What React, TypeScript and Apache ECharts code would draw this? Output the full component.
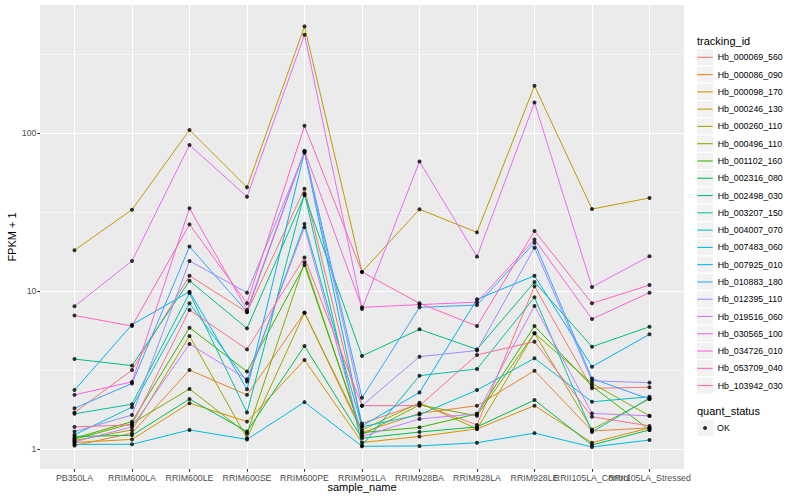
import React, { useEffect, useRef } from "react";
import * as echarts from "echarts";

const categories = [
  "PB350LA", "RRIM600LA", "RRIM600LE", "RRIM600SE", "RRIM600PE", "RRIM901LA",
  "RRIM928BA", "RRIM928LA", "RRIM928LE", "RRII105LA_Control", "RRII105LA_Stressed",
];

const trackingIds = [
  "Hb_000069_560", "Hb_000086_090", "Hb_000098_170", "Hb_000246_130", "Hb_000260_110",
  "Hb_000496_110", "Hb_001102_160", "Hb_002316_080", "Hb_002498_030", "Hb_003207_150",
  "Hb_004007_070", "Hb_007483_060", "Hb_007925_010", "Hb_010883_180", "Hb_012395_110",
  "Hb_019516_060", "Hb_030565_100", "Hb_034726_010", "Hb_053709_040", "Hb_103942_030",
];

const hueColors = [
  "#F8766D", "#EA8331", "#D89000", "#C09B00", "#A3A500", "#7CAE00", "#39B600", "#00BB4E",
  "#00BF7D", "#00C1A3", "#00BFC4", "#00BAE0", "#00B0F6", "#35A2FF", "#9590FF", "#C77CFF",
  "#E76BF3", "#FA62DB", "#FF62BC", "#FF6C91",
];

// FPKM + 1 per sample, in category order
const hb000069_560 = [1.70, 3.16, 12.5, 7.33, 44.4, 1.45, 1.93, 1.42, 10.7, 2.42, 2.46];
const hb000086_090 = [1.05, 1.26, 3.16, 2.20, 7.29, 1.27, 1.68, 1.88, 3.13, 1.30, 1.36];
const hb000098_170 = [1.10, 1.15, 1.95, 1.49, 3.66, 1.10, 1.20, 1.34, 1.88, 1.096, 1.36];
const hb000246_130 = [18.1, 32.7, 104.5, 45.3, 473, 13.2, 32.9, 23.5, 199, 33.0, 38.8];
const hb000260_110 = [1.13, 1.32, 5.19, 1.17, 7.29, 1.32, 1.96, 1.34, 5.40, 1.33, 2.07];
const hb000496_110 = [1.15, 1.45, 2.40, 1.25, 15.2, 1.23, 1.90, 1.62, 5.40, 2.60, 1.62];
const hb001102_160 = [1.17, 1.49, 5.86, 3.09, 14.6, 1.27, 1.37, 1.67, 6.0, 2.50, 1.32];
const hb002316_080 = [1.20, 1.22, 2.07, 1.29, 4.49, 1.17, 1.28, 1.38, 2.04, 1.06, 1.32];
const hb002498_030 = [3.71, 3.37, 11.6, 5.80, 40.4, 3.88, 5.72, 4.27, 11.4, 4.44, 5.94];
const hb003207_150 = [1.67, 1.92, 9.7, 1.70, 41.4, 1.05, 2.91, 3.21, 9.12, 1.28, 2.10];
const hb004007_070 = [1.23, 1.84, 8.36, 2.67, 26.6, 1.38, 1.65, 2.36, 3.75, 1.99, 2.14];
const hb007483_060 = [1.07, 1.07, 1.32, 1.15, 1.98, 1.04, 1.045, 1.096, 1.26, 1.03, 1.14];
const hb007925_010 = [2.36, 6.12, 9.9, 2.39, 76, 1.40, 2.28, 8.86, 12.5, 3.32, 5.32];
const hb010883_180 = [1.81, 2.60, 19.1, 7.40, 77, 2.11, 7.88, 8.15, 20.2, 2.79, 2.07];
const hb012395_110 = [1.29, 1.64, 15.5, 9.76, 75, 1.88, 3.84, 4.20, 18.8, 2.70, 2.63];
const hb019516_060 = [1.11, 1.38, 4.62, 2.76, 25.3, 1.20, 1.55, 1.67, 8.04, 1.68, 1.62];
const hb030565_100 = [8.0, 15.5, 84, 39.5, 419, 7.7, 66, 16.5, 156, 10.6, 16.6];
const hb034726_010 = [2.20, 2.66, 33.4, 7.59, 77, 7.88, 8.2, 8.5, 21.2, 6.65, 9.76];
const hb053709_040 = [7.0, 6.0, 26.4, 8.36, 111, 13.2, 8.36, 6.0, 24, 8.36, 10.9];
const hb103942_030 = [1.38, 1.42, 7.59, 4.27, 16.3, 1.88, 1.88, 3.94, 4.78, 1.60, 1.40];

const seriesValues = [
  hb000069_560, hb000086_090, hb000098_170, hb000246_130, hb000260_110,
  hb000496_110, hb001102_160, hb002316_080, hb002498_030, hb003207_150,
  hb004007_070, hb007483_060, hb007925_010, hb010883_180, hb012395_110,
  hb019516_060, hb030565_100, hb034726_010, hb053709_040, hb103942_030,
];

const yTickValues = [1, 10, 100];
const quantStatus = "OK";

const FONT = "'Liberation Sans', Arial, Helvetica, sans-serif";

export default function App() {
  const ref = useRef<HTMLDivElement>(null);

  useEffect(() => {
    if (!ref.current) return;
    const chart = echarts.init(ref.current, undefined, { renderer: "svg" });

    const panel = { left: 40, top: 5, width: 644, height: 464 };
    const yMin = 0.747;
    const yMax = 646;
    const ppd = panel.height / (Math.log10(yMax) - Math.log10(yMin));
    const yAtOne = panel.top + Math.log10(yMax) * ppd;
    const yAtTop = yAtOne - Math.log10(yTickValues[yTickValues.length - 1]) * ppd;

    const n = categories.length;
    const step = panel.width / (n - 1 + 1.2);
    const dataLeft = panel.left + 0.6 * step;
    const dataWidth = step * (n - 1);
    const crowdedLabel = n - 2; // label that overlaps its neighbours

    const keySize = 17.28;
    const legendLeft = 696.4;
    const legend1Top = 48.66;
    const legend2Top = 419.4;

    const lineSeries = trackingIds.map((name, k) => ({
      name,
      type: "line",
      xAxisIndex: 2,
      yAxisIndex: 2,
      data: seriesValues[k].map((v, i) => [i, v]),
      symbol: "none",
      showSymbol: false,
      color: hueColors[k],
      lineStyle: { color: hueColors[k], width: 1 },
      z: 3,
    }));

    const pointData: number[][] = [];
    seriesValues.forEach((vals) => vals.forEach((v, i) => pointData.push([i, v])));

    const keyRects: any[] = trackingIds.map((_, k) => ({
      type: "rect",
      shape: { x: legendLeft, y: legend1Top + k * keySize, width: keySize, height: keySize },
      style: { fill: "#F2F2F2", stroke: "#FFFFFF", lineWidth: 1 },
      z: 1,
    }));
    keyRects.push({
      type: "rect",
      shape: { x: legendLeft, y: legend2Top, width: keySize, height: keySize },
      style: { fill: "#F2F2F2", stroke: "#FFFFFF", lineWidth: 1 },
      z: 1,
    });

    const mkText = (text: string, x: number, y: number, size: number, align: string, rotation = 0) => ({
      type: "text",
      x,
      y,
      rotation,
      z: 10,
      style: {
        text,
        fill: "#000000",
        fontSize: size,
        fontFamily: FONT,
        align,
        textAlign: align,
        verticalAlign: "middle",
        textVerticalAlign: "middle",
      },
    });

    const xLabelStyle = {
      margin: 4, fontSize: 8.8, color: "#4D4D4D", fontFamily: FONT, hideOverlap: false,
    };

    const option: any = {
      animation: false,
      backgroundColor: "#FFFFFF",
      textStyle: { fontFamily: FONT },
      grid: [
        {
          left: panel.left, top: panel.top, width: panel.width, height: panel.height,
          show: true, backgroundColor: "#EBEBEB", borderWidth: 0, containLabel: false,
        },
        {
          left: panel.left, top: yAtTop, width: panel.width, height: yAtOne - yAtTop,
          show: false, containLabel: false,
        },
        {
          left: dataLeft, top: panel.top, width: dataWidth, height: panel.height,
          show: false, containLabel: false,
        },
      ],
      xAxis: [
        { type: "value", gridIndex: 0, show: false, min: 0, max: 1 },
        { type: "value", gridIndex: 1, show: false, min: 0, max: 1 },
        {
          type: "value", gridIndex: 2, min: 0, max: n - 1, interval: 1,
          axisLine: { show: false },
          axisTick: { show: true, length: 2.75, lineStyle: { color: "#333333", width: 1.07 } },
          axisLabel: {
            ...xLabelStyle,
            showMinLabel: true, showMaxLabel: true,
            formatter: (v: number) => {
              const i = Math.round(v);
              return i === crowdedLabel ? "" : categories[i] ?? "";
            },
          },
          splitLine: { show: true, lineStyle: { color: "#FFFFFF", width: 1.07 } },
        },
        {
          type: "value", gridIndex: 2, min: 0, max: n - 1, interval: 1, position: "bottom",
          axisLine: { show: false }, axisTick: { show: false }, splitLine: { show: false },
          axisLabel: {
            ...xLabelStyle,
            formatter: (v: number) => {
              const i = Math.round(v);
              return i === crowdedLabel ? categories[i] : "";
            },
          },
        },
      ],
      yAxis: [
        {
          type: "log", gridIndex: 0, logBase: Math.sqrt(10), min: yMin, max: yMax,
          axisLine: { show: false }, axisTick: { show: false }, axisLabel: { show: false },
          splitLine: {
            show: true, showMinLine: false, showMaxLine: false,
            lineStyle: { color: "#FFFFFF", width: 0.53 },
          },
        },
        {
          type: "log", gridIndex: 1, logBase: 10,
          min: yTickValues[0], max: yTickValues[yTickValues.length - 1],
          axisLine: { show: false },
          axisTick: { show: true, length: 2.75, lineStyle: { color: "#333333", width: 1.07 } },
          axisLabel: {
            show: true, margin: 3.5, fontSize: 8.8, color: "#4D4D4D", fontFamily: FONT,
            formatter: (v: number) => String(Math.round(v)),
          },
          splitLine: { show: true, lineStyle: { color: "#FFFFFF", width: 1.07 } },
        },
        {
          type: "log", gridIndex: 2, logBase: 10, min: yMin, max: yMax, show: false,
          splitLine: { show: false },
        },
      ],
      legend: [
        {
          data: trackingIds.map((name, k) => ({
            name,
            icon: "rect",
            itemStyle: { color: hueColors[k], borderWidth: 0 },
          })),
          orient: "vertical",
          left: legendLeft + 0.9,
          top: legend1Top,
          padding: 0,
          itemGap: 0,
          itemWidth: 15.4,
          itemHeight: 1.07,
          selectedMode: false,
          textStyle: { fontSize: 8.8, color: "#000000", fontFamily: FONT, lineHeight: keySize },
          z: 5,
        },
        {
          data: [{ name: quantStatus, icon: "circle", itemStyle: { color: "#000000", borderWidth: 0 } }],
          orient: "vertical",
          left: legendLeft + keySize / 2 - 2,
          top: legend2Top,
          padding: 0,
          itemGap: 0,
          itemWidth: 4,
          itemHeight: 4,
          selectedMode: false,
          textStyle: {
            fontSize: 8.8, color: "#000000", fontFamily: FONT, lineHeight: keySize,
            padding: [0, 0, 0, 5],
          },
          z: 5,
        },
      ],
      graphic: [
        ...keyRects,
        mkText("sample_name", panel.left + panel.width / 2, 487, 11, "center"),
        mkText("FPKM + 1", 12, panel.top + panel.height / 2, 11, "center", Math.PI / 2),
        mkText("tracking_id", 697, 40.7, 11, "left"),
        mkText("quant_status", 697, 411, 11, "left"),
      ],
      series: [
        ...lineSeries,
        {
          name: quantStatus,
          type: "scatter",
          xAxisIndex: 2,
          yAxisIndex: 2,
          data: pointData,
          symbol: "circle",
          symbolSize: 4,
          itemStyle: { color: "#000000" },
          z: 4,
        },
      ],
    };

    chart.setOption(option);
    return () => chart.dispose();
  }, []);

  return (
    <div
      ref={ref}
      style={{ position: "absolute", left: 0, top: 0, width: 800, height: 500 }}
    />
  );
}
